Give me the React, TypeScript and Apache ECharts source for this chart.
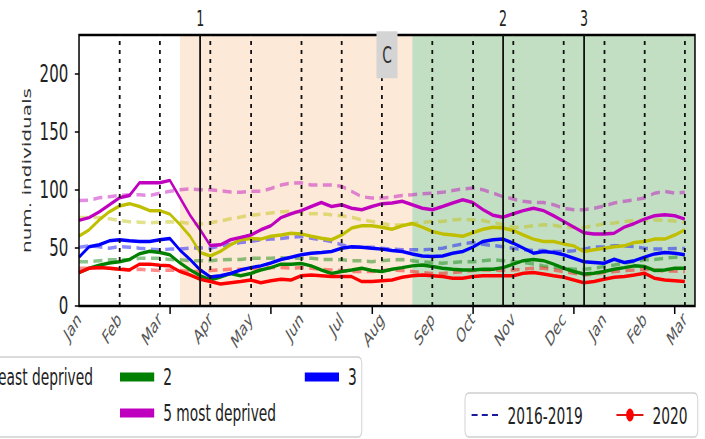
import React, { useEffect, useRef } from "react";
import * as echarts from "echarts";

// ---- data ----
const weeksCount = 61;
const monthWeeks = [0, 4, 8, 13, 17, 22, 26, 30, 35, 39, 43, 48, 52, 56, 60];
const monthLabels = ["Jan", "Feb", "Mar", "Apr", "May", "Jun", "Jul", "Aug", "Sep", "Oct", "Nov", "Dec", "Jan", "Feb", "Mar"];
const majorTickWeeks = [9, 19, 29, 39, 49, 59];
const yTickValues = [0, 50, 100, 150, 200];
const eventWeeks = [12, 42, 50];
const eventLabels = ["1", "2", "3"];
const shadeStarts = [10, 33];
const shadeEnds = [33, 61];
const noteWeek = 30.5;
const noteLabel = "C";
const groupNames = ["1 least deprived", "2", "3", "4", "5 most deprived"];
const periodNames = ["2016-2019", "2020"];

const g1_2020 = [60, 65.5, 74, 81, 86, 88, 85.6, 82, 82, 79, 70, 60, 46, 43, 47, 52.6, 57, 58, 57.5, 60, 61, 62.6, 62, 60, 58.3, 57, 61, 67, 69, 69, 67.8, 66, 69, 71, 67.8, 64, 62, 61, 60, 63, 66, 67.8, 67, 65, 61, 57.5, 55.5, 55.5, 53.4, 51.7, 46.8, 48.3, 49.7, 51, 51.7, 54.6, 55.5, 57.5, 57.5, 61, 65.5];
const g1_base = [76, 76, 76, 75, 73.5, 72.5, 72, 71.5, 72, 72.5, 72, 71, 70.5, 71.5, 73, 75, 76.5, 78, 79, 80, 81, 81.3, 80.5, 79.3, 79.3, 78.4, 77.6, 76.4, 74, 72.7, 71, 69.5, 69.8, 70.7, 71.8, 72.7, 72.7, 74, 74.7, 74, 73.5, 71.8, 69.8, 67.8, 67.8, 69, 69.8, 69.5, 67.8, 67.8, 67.5, 69, 70.7, 71.3, 72.7, 73.6, 74, 74, 73.6, 73, 71.8];
const g2_2020 = [28.7, 32.5, 35, 37, 38, 40, 45, 47, 46, 44, 37, 31, 26, 22.4, 25, 28, 26, 28, 31, 33, 36, 36, 36.5, 34.5, 31, 28, 29.6, 31, 32.5, 30.5, 29.6, 31.6, 33, 34.5, 35.3, 34, 32.5, 31.6, 31, 31, 31.6, 31.6, 33, 36, 39, 40, 39, 36, 32.5, 29.6, 27.6, 28.2, 29.6, 31.6, 33, 34.5, 34, 30.5, 31, 32.5, 32.5];
const g2_base = [38, 38, 39, 39.7, 39.7, 40, 41, 41, 41, 40, 39.7, 39, 39, 39, 39.7, 40, 40, 41, 41, 41, 41.5, 41, 41, 41, 40, 40, 39.7, 39, 39, 38, 39, 39.7, 40, 39, 38, 37.4, 36.8, 37.4, 38, 38, 39, 39.7, 39, 38.2, 37.4, 36.2, 34.5, 33.3, 32.5, 31.6, 31.6, 32.5, 34, 35.3, 36.8, 38.2, 39.7, 40, 41, 42, 42];
const g3_2020 = [42, 51, 52.6, 56, 57, 56, 55.5, 55.5, 57, 58, 48, 40, 31, 25, 26, 28, 31, 33, 34.5, 37, 40, 42, 44, 45.4, 46, 46.8, 49.7, 51, 50.6, 49.7, 48.9, 47.7, 46.8, 44.8, 43, 42.5, 43, 45.4, 46.8, 50.6, 55.5, 57, 57.5, 54, 49.7, 45.4, 46.8, 46, 44, 41, 38, 37.4, 36.8, 40.2, 37.4, 39, 42, 44.8, 46, 45.4, 44];
const g3_base = [50.6, 51.7, 51, 49.7, 51, 50.6, 49.7, 48.9, 48.3, 48.9, 49, 49.7, 50, 49.7, 51.7, 53, 54.6, 55.5, 57, 57.5, 58, 59, 59.8, 58.3, 57, 55.5, 52.6, 50.6, 50.6, 50.6, 49.7, 48.9, 48.3, 48.3, 48.3, 48.9, 49.7, 51.7, 53.4, 54.6, 53, 52, 51, 49.7, 48.3, 47.7, 47.7, 46.8, 46.8, 47.5, 48.9, 50.6, 51, 51.7, 51.7, 51, 49.7, 49, 49, 49.5, 49.5];
const g4_2020 = [28.7, 32.5, 33, 32.5, 31.6, 31, 36, 36, 35, 34.5, 29.6, 26.7, 23, 21, 19, 20, 21, 22.4, 20, 21.8, 23, 22.4, 26, 26.7, 26, 25.3, 25.3, 25.3, 21, 21, 21.8, 22.4, 24.7, 26, 26.7, 26, 25.3, 23.9, 23.9, 25.3, 26, 26, 26, 26, 28.2, 28.7, 27.6, 26, 24.7, 22.4, 20, 21, 23, 24.7, 25.3, 26.7, 28.2, 23.9, 22.4, 21.8, 21];
const g4_base = [32.5, 32.5, 33, 32.5, 32, 31, 31.6, 31, 30.5, 31, 30.5, 29.6, 29.6, 30.5, 31, 31.6, 31.6, 32, 32.5, 33, 33, 32.5, 33, 32.5, 31.6, 31, 30.5, 29.6, 29.6, 29.6, 30.5, 31, 30.5, 29.6, 28.7, 28, 28, 28.7, 29.6, 30.5, 31, 31, 30.5, 31, 31.6, 32.5, 32.5, 31, 29.6, 28.2, 26.7, 27.6, 28.7, 29.6, 30.5, 31, 31.6, 31, 30, 30, 29.6];
const g5_2020 = [73.6, 76, 81, 87, 93, 95, 106, 106, 106, 108, 93, 78, 65.5, 52, 52.6, 57, 59, 61, 65.5, 69, 76, 79.3, 82, 85.6, 89, 85.6, 87, 84, 82.8, 85.6, 88, 88.5, 90, 87, 84, 82.8, 85.6, 88.5, 91.4, 89, 82.8, 78, 76.4, 79.3, 82, 84, 82, 77.6, 72.7, 67.8, 63, 62, 62, 62.6, 67.8, 71, 74.7, 77.6, 78.4, 77.6, 74.7];
const g5_base = [90.8, 91, 93, 94, 95, 95.7, 95.7, 95, 97, 98.6, 100, 100.6, 100, 100, 99, 98, 97.7, 98.6, 98.6, 101, 104, 105.7, 106, 104, 104, 104, 103, 98.6, 94, 92.8, 92.8, 93.7, 95, 95.7, 96.6, 97, 97.7, 99.4, 100.6, 101.4, 100, 97, 94, 92, 90, 89, 89, 87, 84, 82.8, 82.8, 84, 86, 88.5, 90, 91.4, 92.8, 97, 98.6, 97, 97.7];

const values2020 = [g1_2020, g2_2020, g3_2020, g4_2020, g5_2020];
const valuesBase = [g1_base, g2_base, g3_base, g4_base, g5_base];

// ---- style ----
const SQUISH = 0.6;
const VIEW_W = 705;
const VIEW_H = 439;
const CHART_W = VIEW_W / SQUISH;
const FONT = "DejaVu Sans, Verdana, sans-serif";
const groupColors = ["#bfbf00", "#008000", "#0000ff", "#ff0000", "#bf00bf"];
const GRID = { left: 131.7, right: 1158.3, top: 35, bottom: 306 };

const toPairs = (arr: number[]) => arr.map((v, i) => [i, v]);

export default function App() {
  const ref = useRef<HTMLDivElement>(null);
  useEffect(() => {
    if (!ref.current) return;
    const chart = echarts.init(ref.current, undefined, { renderer: "svg", width: CHART_W, height: VIEW_H });

    const series: any[] = [];
    // background: shading + month dotted lines
    series.push({
      name: "bg",
      type: "line",
      data: [],
      silent: true,
      z: -1,
      markArea: {
        silent: true,
        data: shadeStarts.map((s, i) => [
          { xAxis: s, itemStyle: { color: i === 0 ? "#fde9d8" : "#c3dfc3" } },
          { xAxis: shadeEnds[i] },
        ]),
      },
      markLine: {
        silent: true,
        symbol: ["none", "none"],
        label: { show: false },
        lineStyle: { color: "#111", type: [4, 5], width: 3 },
        data: monthWeeks.slice(1).map((w) => ({ xAxis: w })),
      },
    });
    series.push({
      name: "events",
      type: "line",
      data: [],
      silent: true,
      z: 1,
      markLine: {
        silent: true,
        symbol: ["none", "none"],
        lineStyle: { color: "#111", type: "solid", width: 3 },
        label: { show: true, position: "end", formatter: "{b}", fontSize: 21, fontFamily: FONT, color: "#222", distance: 6 },
        data: eventWeeks.map((w, i) => ({ xAxis: w, name: eventLabels[i] })),
      },
    });
    // baseline dashed
    valuesBase.forEach((vals, g) => {
      series.push({
        name: groupNames[g] + " (2016-2019)",
        type: "line",
        data: toPairs(vals),
        showSymbol: false,
        symbol: "none",
        z: 2,
        color: groupColors[g],
        lineStyle: { color: groupColors[g], width: 3.5, type: [15, 9], opacity: 0.45 },
      });
    });
    // 2020 solid
    values2020.forEach((vals, g) => {
      series.push({
        name: groupNames[g],
        type: "line",
        data: toPairs(vals),
        showSymbol: false,
        symbol: "none",
        z: 3,
        color: groupColors[g],
        lineStyle: { color: groupColors[g], width: 3.5 },
      });
    });
    // legend-only series for periods
    series.push({
      name: periodNames[0],
      type: "line",
      data: [],
      symbol: "none",
      color: "#1a1a9c",
      lineStyle: { color: "#1a1a9c", width: 3, type: [10, 7] },
    });
    series.push({
      name: periodNames[1],
      type: "line",
      data: [],
      symbol: "circle",
      symbolSize: 13,
      color: "#ee1111",
      itemStyle: { color: "#ff0000" },
      lineStyle: { color: "#dd1515", width: 3 },
    });
    // note box "C"
    series.push({
      name: "note",
      type: "line",
      data: [],
      silent: true,
      z: 8,
      markPoint: {
        silent: true,
        symbol: "rect",
        symbolSize: [35, 47],
        itemStyle: { color: "#d4d4d4" },
        label: { show: true, position: "inside", formatter: noteLabel, fontSize: 23, fontFamily: FONT, color: "#333" },
        data: [{ coord: [noteWeek, 216] }],
      },
    });

    const legendBase = {
      orient: "horizontal",
      padding: 0,
      icon: "rect",
      itemWidth: 57,
      itemHeight: 9,
      selectedMode: false,
      textStyle: { fontSize: 23, fontFamily: FONT, color: "#222", lineHeight: 28, padding: [0, 0, 0, 10] },
      z: 10,
    };

    chart.setOption({
      animation: false,
      backgroundColor: "#ffffff",
      textStyle: { fontFamily: FONT },
      grid: { left: GRID.left, right: CHART_W - GRID.right, top: GRID.top, bottom: VIEW_H - GRID.bottom, show: false },
      xAxis: {
        type: "value",
        min: 0,
        max: weeksCount,
        axisLine: { show: false },
        splitLine: { show: false },
        axisTick: { show: true, customValues: majorTickWeeks, length: 8, lineStyle: { color: "#000", width: 2.5 } },
        axisLabel: {
          customValues: monthWeeks,
          formatter: (v: number) => monthLabels[monthWeeks.indexOf(v)] ?? "",
          rotate: 45,
          margin: 10,
          fontSize: 20,
          fontFamily: FONT,
          color: "#555",
        },
      },
      yAxis: {
        type: "value",
        min: 0,
        max: 233,
        axisLine: { show: false },
        splitLine: { show: false },
        axisTick: { show: true, customValues: yTickValues, length: 7, lineStyle: { color: "#000", width: 1.5 } },
        axisLabel: { customValues: yTickValues, fontSize: 25, margin: 18, color: "#222", fontFamily: FONT },
        name: "num. individuals",
        nameLocation: "middle",
        nameGap: 72,
        nameTextStyle: { fontSize: 20, color: "#333", fontFamily: FONT },
      },
      legend: [
        { ...legendBase, data: [groupNames[0]], left: -103.5, top: 363 },
        { ...legendBase, data: [groupNames[1]], left: 200, top: 363 },
        { ...legendBase, data: [groupNames[2]], left: 508, top: 363 },
        { ...legendBase, data: [groupNames[4]], left: 200, top: 399 },
        {
          ...legendBase,
          icon: undefined,
          data: [{ name: periodNames[0], itemStyle: { opacity: 0 } }, { name: periodNames[1] }],
          left: 785,
          top: 401,
          itemWidth: 45,
          itemHeight: 16,
          itemGap: 55,
        },
      ],
      graphic: [
        { type: "rect", z: 1, silent: true, shape: { x: -20, y: 357, width: 623, height: 80, r: 6 }, style: { fill: "rgba(255,255,255,0.85)", stroke: "#cfcfcf", lineWidth: 1.5 } },
        { type: "rect", z: 1, silent: true, shape: { x: 775, y: 393, width: 388, height: 44, r: 6 }, style: { fill: "rgba(255,255,255,0.85)", stroke: "#cfcfcf", lineWidth: 1.5 } },
        {
          type: "rect",
          z: 5,
          silent: true,
          shape: { x: GRID.left, y: GRID.top, width: GRID.right - GRID.left, height: GRID.bottom - GRID.top },
          style: { fill: "none", stroke: "#000", lineWidth: 2.5 },
        },
      ],
      series,
    });
    return () => chart.dispose();
  }, []);

  return (
    <div style={{ position: "fixed", left: 0, top: 0, width: VIEW_W, height: VIEW_H, overflow: "hidden", background: "#fff" }}>
      <div
        ref={ref}
        style={{ width: CHART_W, height: VIEW_H, transform: `scaleX(${SQUISH})`, transformOrigin: "0 0" }}
      />
    </div>
  );
}
